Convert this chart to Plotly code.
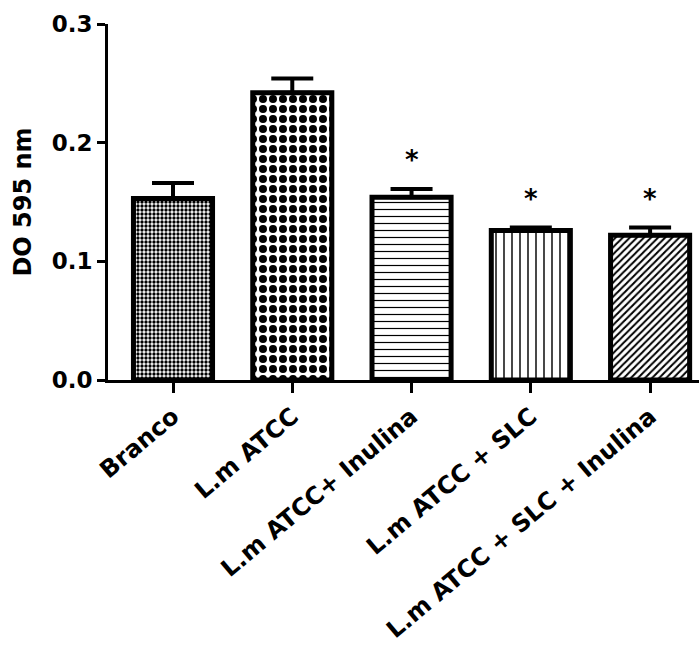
import plotly.graph_objects as go

categories = ["Branco", "L.m ATCC", "L.m ATCC+ Inulina", "L.m ATCC + SLC", "L.m ATCC + SLC + Inulina"]
means = [0.153, 0.242, 0.154, 0.126, 0.122]
sems = [0.013, 0.012, 0.007, 0.0025, 0.0065]
significance = ["", "", "*", "*", "*"]
y_ticks = [0.0, 0.1, 0.2, 0.3]
y_tick_labels = ["0.0", "0.1", "0.2", "0.3"]

pattern_shapes = [".", ".", "-", "|", "/"]
pattern_sizes = [4, 10, 7, 8, 5]
pattern_solidity = [0.55, 0.5, 0.17, 0.18, 0.4]

FONT = "DejaVu Sans"

fig = go.Figure()
for i, cat in enumerate(categories):
    fig.add_trace(go.Bar(
        x=[cat], y=[means[i]],
        marker=dict(
            color="white",
            line=dict(color="black", width=5),
            pattern=dict(shape=pattern_shapes[i], size=pattern_sizes[i],
                         solidity=pattern_solidity[i], fgcolor="black",
                         bgcolor="white", fillmode="replace"),
        ),
        error_y=dict(type="data", array=[sems[i]], arrayminus=[0], symmetric=False,
                     color="black", thickness=4, width=21),
        showlegend=False,
    ))

for i, cat in enumerate(categories):
    if significance[i]:
        fig.add_annotation(x=cat, y=means[i] + sems[i] + 0.010, text=significance[i],
                           showarrow=False, yanchor="bottom",
                           font=dict(family=FONT, size=26, color="black", weight="bold"))

fig.update_layout(
    width=699, height=652,
    margin=dict(l=108, r=0, t=24, b=272, autoexpand=False),
    plot_bgcolor="white", paper_bgcolor="white",
    bargap=0.337,
    font=dict(family=FONT, color="black"),
)
fig.update_xaxes(
    type="category", categoryorder="array", categoryarray=categories,
    range=[-0.545, 4.41],
    showline=True, linecolor="black", linewidth=3,
    ticks="outside", ticklen=10, tickwidth=3, tickcolor="black",
    tickangle=-40, automargin=False,
    tickfont=dict(family=FONT, size=24, color="black", weight="bold"),
    showgrid=False, zeroline=False,
)
fig.update_yaxes(
    range=[0, 0.3], tickvals=y_ticks, ticktext=y_tick_labels,
    showline=True, linecolor="black", linewidth=3,
    ticks="outside", ticklen=8, tickwidth=3, tickcolor="black",
    automargin=False,
    tickfont=dict(family=FONT, size=23, color="black", weight="bold"),
    title=dict(text="DO 595 nm", font=dict(family=FONT, size=24, color="black", weight="bold"), standoff=14),
    showgrid=False, zeroline=False,
)

fig.write_html("out.html")
